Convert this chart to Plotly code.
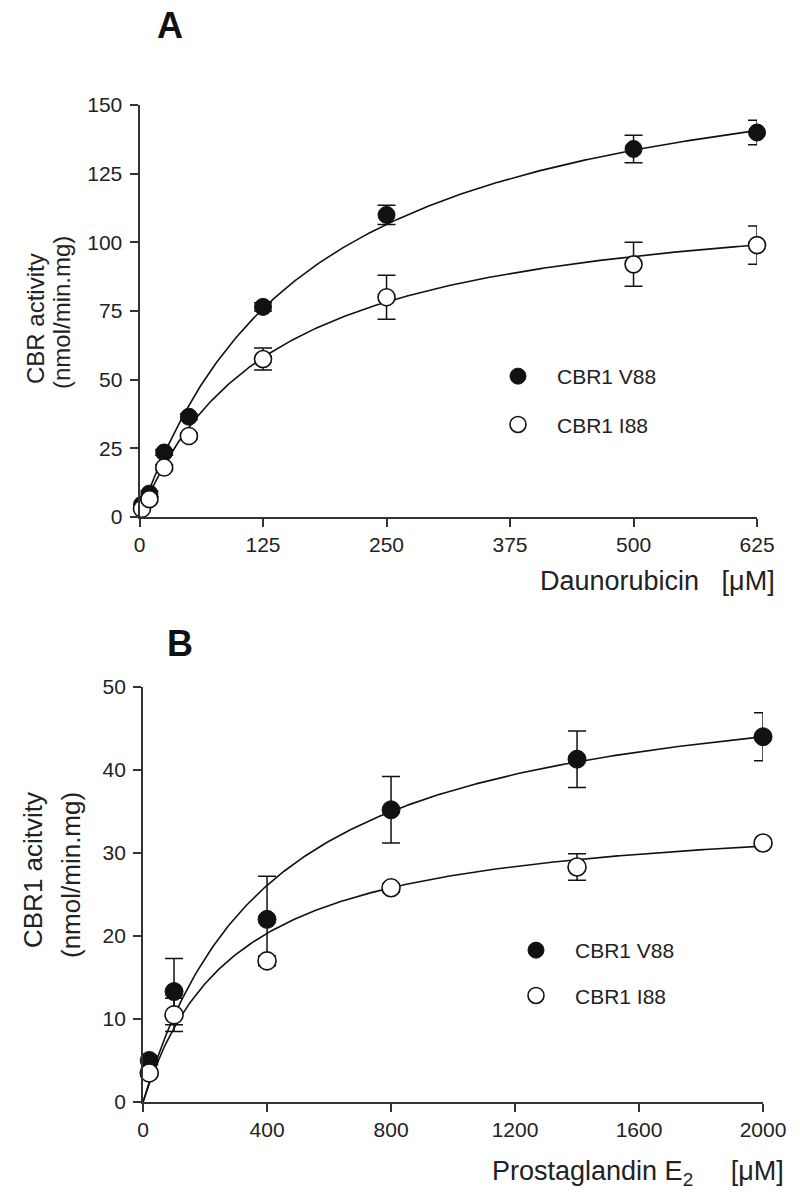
import numpy as np
import plotly.graph_objects as go

# ---------------- Panel A: Daunorubicin ----------------
dauno_conc = [2.5, 10, 25, 50, 125, 250, 500, 625]
dauno_v88 = [4.5, 8.5, 23.5, 36.5, 76.5, 110, 134, 140]
dauno_v88_err = [0.5, 1, 1, 1, 1.5, 3.5, 5, 4.5]
dauno_i88 = [3, 6.5, 18, 29.5, 57.5, 80, 92, 99]
dauno_i88_err = [0.5, 1, 1, 1, 4, 8, 8, 7]
# Michaelis-Menten fit parameters (Vmax, Km)
fit_A_v88 = (179, 170)
fit_A_i88 = (120.3, 134)
xticks_A = [0, 125, 250, 375, 500, 625]
yticks_A = [0, 25, 50, 75, 100, 125, 150]

# ---------------- Panel B: Prostaglandin E2 ----------------
pge_conc = [20, 100, 400, 800, 1400, 2000]
pge_v88 = [5, 13.3, 22, 35.2, 41.3, 44]
pge_v88_err = [0.5, 4, 5.2, 4, 3.4, 2.9]
pge_i88 = [3.5, 10.5, 17, 25.8, 28.3, 31.2]
pge_i88_err = [0.3, 2, 0.6, 0.5, 1.6, 0.4]
fit_B_v88 = (53.1, 414)
fit_B_i88 = (35.4, 297)
xticks_B = [0, 400, 800, 1200, 1600, 2000]
yticks_B = [0, 10, 20, 30, 40, 50]

series_names = ["CBR1 V88", "CBR1 I88"]

FONT = "Liberation Sans, Arial, Helvetica, sans-serif"
INK = "#111111"
AXC = "#333333"


def mm(vmax, km, xmax):
    xs = np.linspace(0, xmax, 300)
    return xs, vmax * xs / (km + xs)


fig = go.Figure()


def add_panel(xa, ya, legend, conc, v88, v88e, i88, i88e, fv, fi, xmax, msize):
    for (vm, km) in (fv, fi):
        xs, ys = mm(vm, km, xmax)
        fig.add_trace(go.Scatter(x=xs, y=ys, mode="lines",
                                 line=dict(color=INK, width=1.6),
                                 xaxis=xa, yaxis=ya, showlegend=False,
                                 hoverinfo="skip", cliponaxis=False))
    fig.add_trace(go.Scatter(
        x=conc, y=v88, mode="markers", name=series_names[0],
        legend=legend, legendgroup=legend + "v",
        marker=dict(symbol="circle", size=msize, color=INK,
                    line=dict(color=INK, width=1)),
        error_y=dict(type="data", array=v88e, visible=True, color=INK,
                     thickness=1.5, width=9),
        xaxis=xa, yaxis=ya, cliponaxis=False))
    fig.add_trace(go.Scatter(
        x=conc, y=i88, mode="markers", name=series_names[1],
        legend=legend, legendgroup=legend + "i",
        marker=dict(symbol="circle", size=msize, color="white",
                    line=dict(color=INK, width=1.6)),
        error_y=dict(type="data", array=i88e, visible=True, color=INK,
                     thickness=1.5, width=9),
        xaxis=xa, yaxis=ya, cliponaxis=False))


add_panel("x", "y", "legend", dauno_conc, dauno_v88, dauno_v88_err,
          dauno_i88, dauno_i88_err, fit_A_v88, fit_A_i88, 625, 17)
add_panel("x2", "y2", "legend2", pge_conc, pge_v88, pge_v88_err,
          pge_i88, pge_i88_err, fit_B_v88, fit_B_i88, 2000, 18)

axis_common = dict(showline=True, linecolor=AXC, linewidth=2,
                   ticks="outside", ticklen=8, tickwidth=2, tickcolor=AXC,
                   showgrid=False, zeroline=False,
                   tickfont=dict(family=FONT, size=21, color="#222"))

fig.update_layout(
    width=800, height=1202, autosize=False,
    margin=dict(l=0, r=0, t=0, b=0, autoexpand=False),
    paper_bgcolor="white", plot_bgcolor="white",
    font=dict(family=FONT, color="#222"),
    xaxis=dict(domain=[0.1744, 0.9463], range=[0, 625], tickvals=xticks_A,
               anchor="y", ticklabelstandoff=0, **axis_common),
    yaxis=dict(domain=[0.5699, 0.9126], range=[0, 150], tickvals=yticks_A,
               anchor="x", ticklabelstandoff=3, **axis_common),
    xaxis2=dict(domain=[0.1788, 0.9538], range=[0, 2000], tickvals=xticks_B,
                anchor="y2", ticklabelstandoff=0, **axis_common),
    yaxis2=dict(domain=[0.0832, 0.4285], range=[0, 50], tickvals=yticks_B,
                anchor="x2", ticklabelstandoff=3, **axis_common),
    legend=dict(x=479 / 800, y=1 - 356 / 1202, xanchor="left", yanchor="top",
                bgcolor="rgba(0,0,0,0)", borderwidth=0, itemwidth=68,
                traceorder="grouped", tracegroupgap=18,
                font=dict(family=FONT, size=21, color="#222")),
    legend2=dict(x=497 / 800, y=1 - 930 / 1202, xanchor="left", yanchor="top",
                 bgcolor="rgba(0,0,0,0)", borderwidth=0, itemwidth=68,
                 traceorder="grouped", tracegroupgap=15,
                 font=dict(family=FONT, size=21, color="#222")),
)

# short axis extensions past the origin (axes cross slightly, as in the original)
shapes = []
for xr, yr in (("x", "y"), ("x2", "y2")):
    shapes.append(dict(type="line", xref=xr, yref=yr, xsizemode="pixel", xanchor=0,
                       x0=-13, x1=0, y0=0, y1=0, line=dict(color=AXC, width=2)))
    shapes.append(dict(type="line", xref=xr, yref=yr, ysizemode="pixel", yanchor=0,
                       x0=0, x1=0, y0=-11, y1=0, line=dict(color=AXC, width=2)))
fig.update_layout(shapes=shapes)

ann = []
ann.append(dict(text="<b>A</b>", x=170 / 800, y=1 - 26 / 1202, xref="paper", yref="paper",
                showarrow=False, font=dict(family=FONT, size=36, color="#111"),
                xanchor="center", yanchor="middle"))
ann.append(dict(text="<b>B</b>", x=180 / 800, y=1 - 643 / 1202, xref="paper", yref="paper",
                showarrow=False, font=dict(family=FONT, size=36, color="#111"),
                xanchor="center", yanchor="middle"))
ann.append(dict(text="Daunorubicin\u00a0\u00a0\u00a0[\u03bcM]", x=777 / 800, y=1 - 581 / 1202,
                xref="paper", yref="paper", showarrow=False,
                font=dict(family=FONT, size=27, color="#222"),
                xanchor="right", yanchor="middle"))
ann.append(dict(text="Prostaglandin E<sub>2</sub>\u00a0\u00a0\u00a0\u00a0\u00a0[\u03bcM]",
                x=786 / 800, y=1 - 1173 / 1202, xref="paper", yref="paper",
                showarrow=False, font=dict(family=FONT, size=27, color="#222"),
                xanchor="right", yanchor="middle"))
# y-axis titles (two lines each)
ann.append(dict(text="CBR activity", x=35 / 800, y=1 - 319 / 1202, xref="paper", yref="paper",
                showarrow=False, textangle=-90, font=dict(family=FONT, size=24, color="#222"),
                xanchor="center", yanchor="middle"))
ann.append(dict(text="(nmol/min.mg)", x=61 / 800, y=1 - 313 / 1202, xref="paper", yref="paper",
                showarrow=False, textangle=-90, font=dict(family=FONT, size=24, color="#222"),
                xanchor="center", yanchor="middle"))
ann.append(dict(text="CBR1 acitvity", x=33 / 800, y=1 - 870 / 1202, xref="paper", yref="paper",
                showarrow=False, textangle=-90, font=dict(family=FONT, size=26, color="#222"),
                xanchor="center", yanchor="middle"))
ann.append(dict(text="(nmol/min.mg)", x=71 / 800, y=1 - 875 / 1202, xref="paper", yref="paper",
                showarrow=False, textangle=-90, font=dict(family=FONT, size=26, color="#222"),
                xanchor="center", yanchor="middle"))
fig.update_layout(annotations=ann)

fig.write_html("out.html",
               config={"displayModeBar": False, "responsive": False},
               post_script="document.body.style.margin='0';")
